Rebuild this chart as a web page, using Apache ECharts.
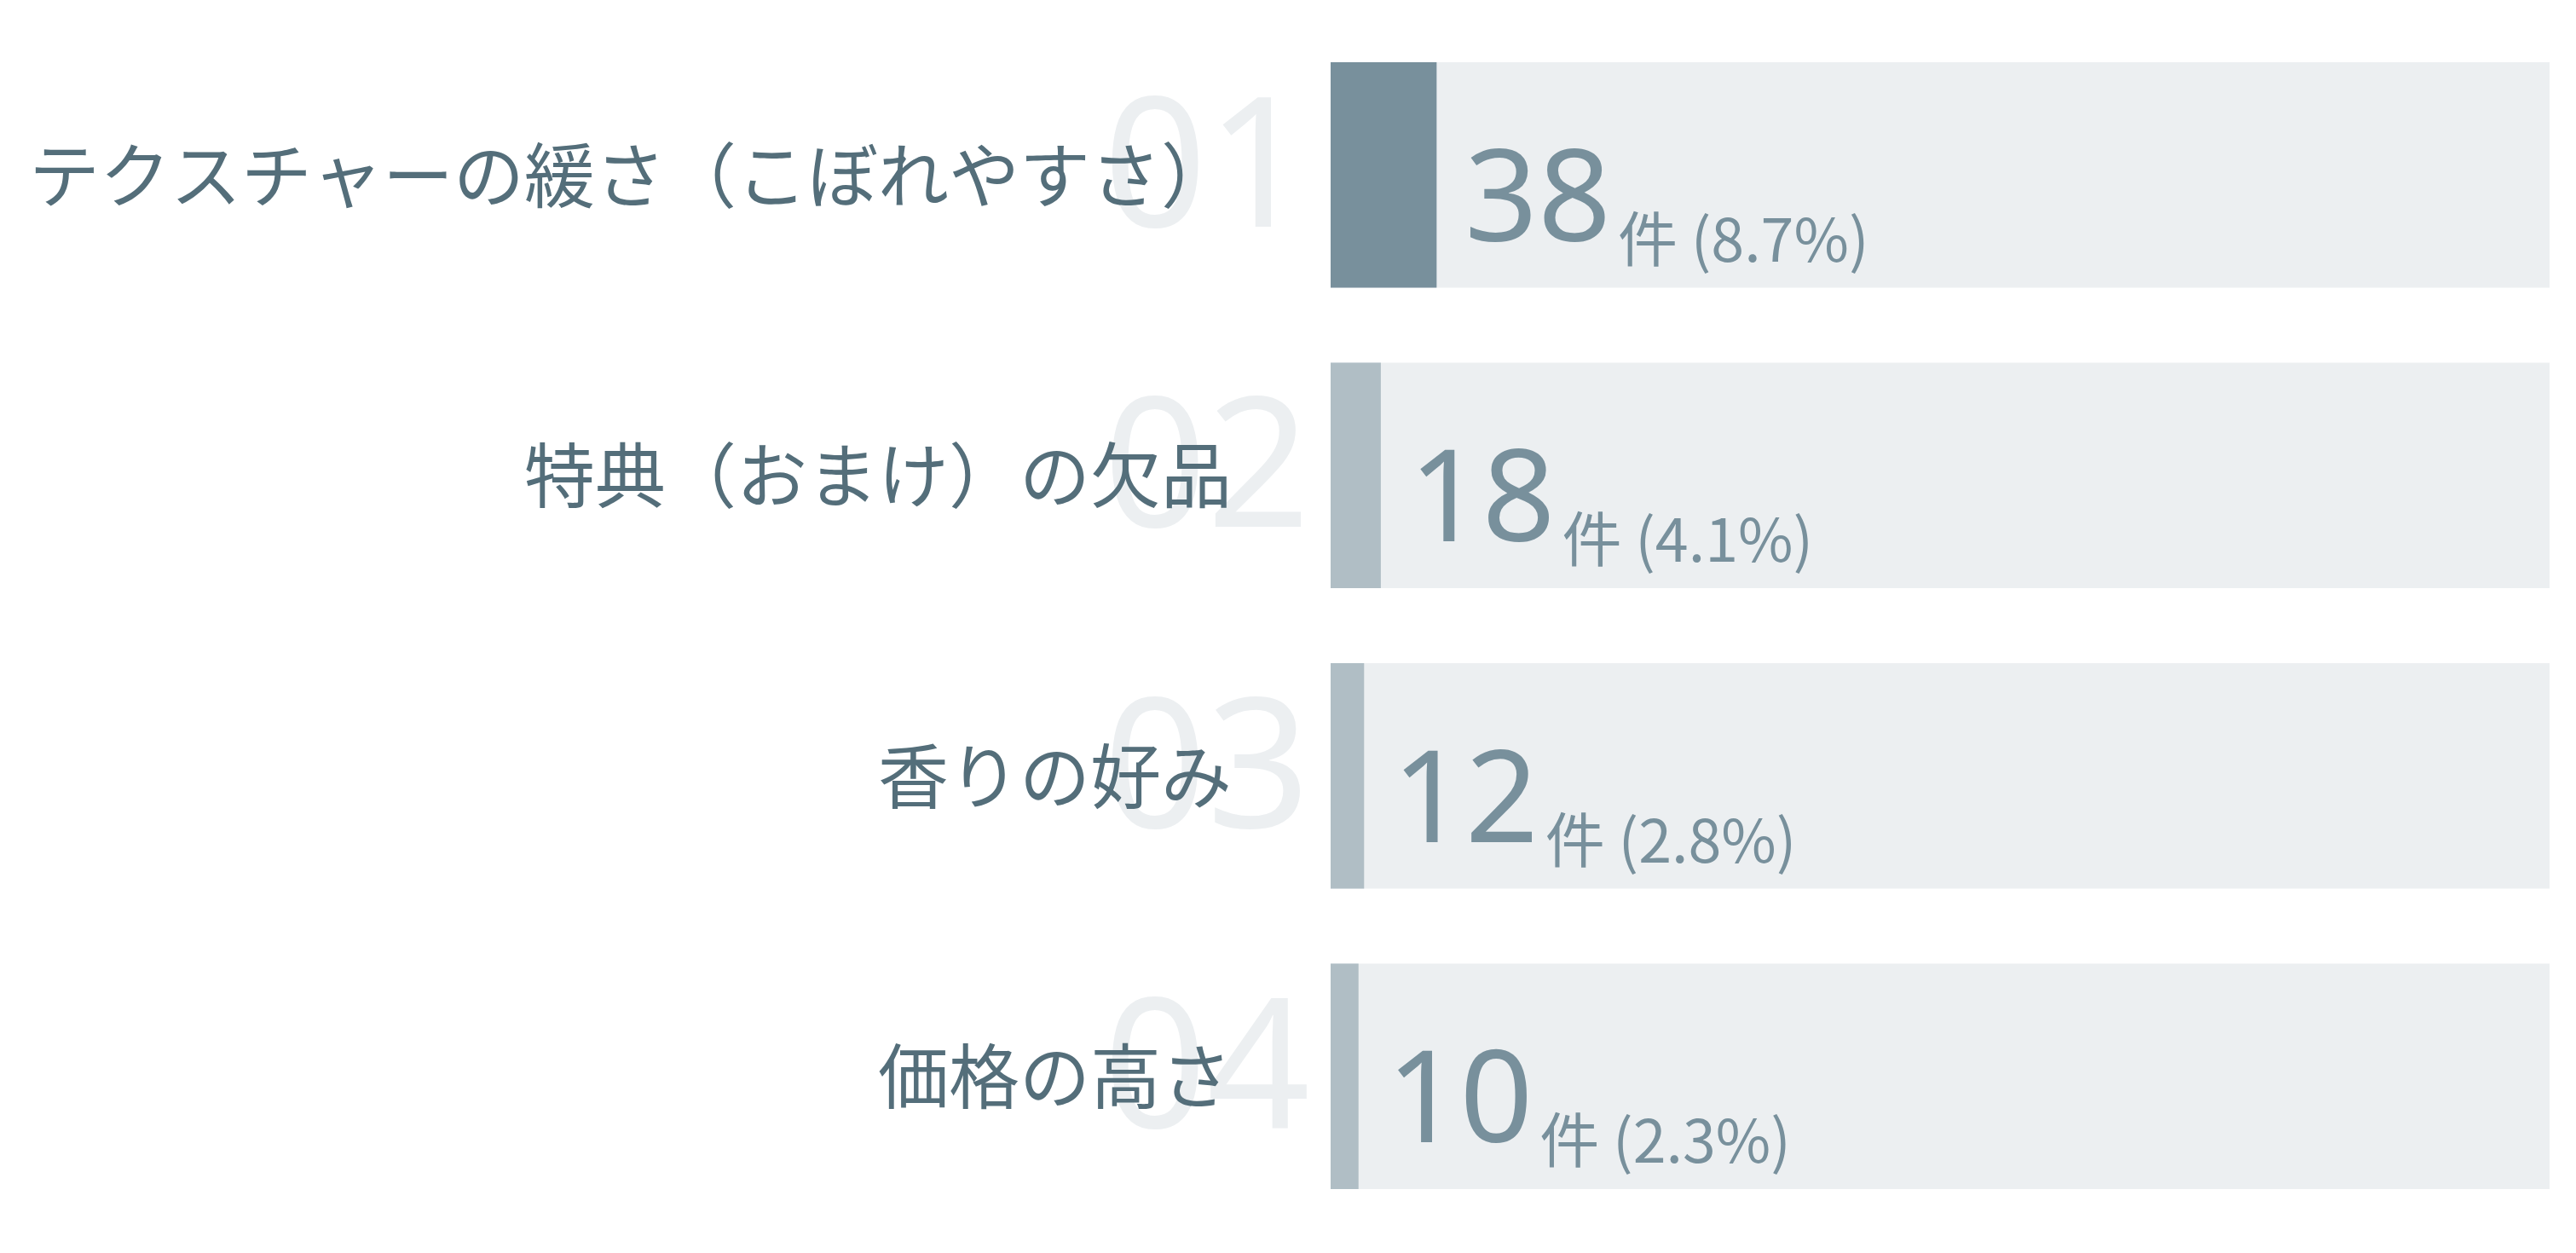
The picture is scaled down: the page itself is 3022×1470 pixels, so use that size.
<!DOCTYPE html>
<html>
<head>
<meta charset="utf-8">
<script src="https://cdn.jsdelivr.net/npm/echarts@6/dist/echarts.min.js"></script>
<style>
html,body{margin:0;padding:0;background:#fff;}
#chart{width:3022px;height:1470px;}
</style>
</head>
<body>
<div id="chart"></div>
<script>
const categories = ['テクスチャーの緩さ（こぼれやすさ）', '特典（おまけ）の欠品', '香りの好み', '価格の高さ'];
const rankLabels = ['01', '02', '03', '04'];
const counts = [38, 18, 12, 10];
const percents = ['8.7%', '4.1%', '2.8%', '2.3%'];
const total = 437;

const jp = '"Noto Sans CJK JP", "Noto Sans", sans-serif';
const chart = echarts.init(document.getElementById('chart'));
chart.setOption({
  backgroundColor: '#ffffff',
  animation: false,
  grid: { left: 1561, right: 31, top: 29, bottom: 31, containLabel: false },
  xAxis: { type: 'value', min: 0, max: total, show: false },
  yAxis: [
    {
      type: 'category', data: rankLabels, inverse: true, position: 'left',
      axisLine: { show: false }, axisTick: { show: false }, splitLine: { show: false },
      axisLabel: {
        margin: 24, fontSize: 212, color: '#ECEFF1', fontFamily: '"Noto Sans", sans-serif',
        fontWeight: 'normal', padding: [0, 0, 40, 0]
      },
      z: 1
    },
    {
      type: 'category', data: categories, inverse: true, position: 'left',
      axisLine: { show: false }, axisTick: { show: false }, splitLine: { show: false },
      axisLabel: {
        margin: 116, fontSize: 83, color: '#546E7A', fontFamily: jp, padding: [0, 0, 12, 0]
      },
      z: 5
    }
  ],
  series: [{
    type: 'bar',
    yAxisIndex: 1,
    barWidth: '75%',
    showBackground: true,
    backgroundStyle: { color: '#ECEFF1' },
    data: counts.map((v, i) => ({
      value: v,
      itemStyle: { color: i === 0 ? '#78909C' : '#B0BEC5' }
    })),
    label: {
      show: true,
      position: 'right',
      distance: 33,
      offset: [0, 35],
      formatter: p => '{num|' + counts[p.dataIndex] + '}{unit|件 (' + percents[p.dataIndex] + ')}',
      rich: {
        num: { fontSize: 150, color: '#78909C', fontFamily: '"Noto Sans", sans-serif', verticalAlign: 'bottom', lineHeight: 150 },
        unit: { fontSize: 70, color: '#78909C', fontFamily: jp, verticalAlign: 'bottom', padding: [0, 0, 0, 8] }
      }
    }
  }]
});
</script>
</body>
</html>
